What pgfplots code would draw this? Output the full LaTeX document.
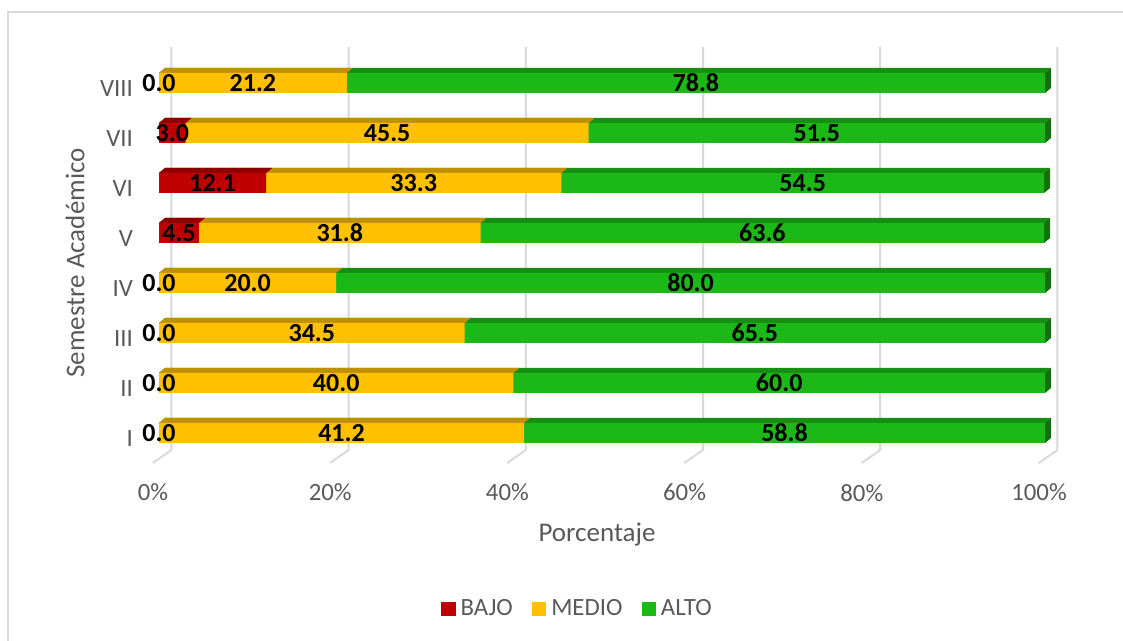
\documentclass[border=0pt]{standalone}
\usepackage{pgfplots}
\pgfplotsset{compat=1.18}
\usepackage{fontspec}
\setmainfont{Carlito}

% colours of the three levels: front, top and side faces
\definecolor{bajo}{HTML}{C00000}
\definecolor{bajotop}{HTML}{8C0000}
\definecolor{medio}{HTML}{FFC000}
\definecolor{mediotop}{HTML}{BF9000}
\definecolor{alto}{HTML}{1CB817}
\definecolor{altotop}{HTML}{168E12}
\definecolor{altoside}{HTML}{10700D}
\definecolor{gridgrey}{HTML}{D9D9D9}
\definecolor{textgrey}{HTML}{595959}

\begin{document}
\begin{tikzpicture}
\useasboundingbox (0,0) rectangle (561.5pt,320.5pt);
% chart frame
\draw[gridgrey, line width=0.8pt] (4pt,-10pt) -- (4pt,314.5pt) -- (580pt,314.5pt);

\begin{axis}[
  scale only axis,
  width=465pt, height=208pt,
  at={(70pt,89pt)}, anchor=south west,
  xmin=-2.1445, xmax=102.822,
  ymin=0.4, ymax=8.72,
  clip=false,
  axis line style={draw=none},
  major tick length=0pt,
  xtick={0,20,40,60,80,100},
  xticklabels={0\%,20\%,40\%,60\%,80\%,100\%},
  ytick={1,2,3,4,5,6,7,8},
  yticklabels={I,II,III,IV,V,VI,VII,VIII},
  tick label style={font=\fontsize{12.4}{14}\selectfont, text=textgrey},
  xticklabel style={xshift=-3pt, yshift=-7pt},
  yticklabel style={yshift=-3pt},
  unbounded coords=jump,
  legend image code/.code={\fill[#1] (0pt,-3.6pt) rectangle (7.2pt,3.6pt);},
  legend style={draw=none, fill=none, at={(0.472,-0.351)}, anchor=center,
    font=\fontsize{12.4}{14}\selectfont, text=textgrey, inner sep=0pt,
    nodes={inner sep=2.5pt},
    /tikz/every even column/.append style={column sep=7pt}},
  legend columns=3,
]
\addlegendimage{fill=bajo, draw=none}
\addlegendimage{fill=medio, draw=none}
\addlegendimage{fill=alto, draw=none}
\legend{BAJO,MEDIO,ALTO}

% gridlines on the back wall, bending onto the floor
\draw[gridgrey, line width=1pt] (axis cs:1.4,8.72) -- (axis cs:1.4,0.66) -- (axis cs:-0.7,0.4);
\draw[gridgrey, line width=1pt] (axis cs:21.4,8.72) -- (axis cs:21.4,0.66) -- (axis cs:19.3,0.4);
\draw[gridgrey, line width=1pt] (axis cs:41.4,8.72) -- (axis cs:41.4,0.66) -- (axis cs:39.3,0.4);
\draw[gridgrey, line width=1pt] (axis cs:61.4,8.72) -- (axis cs:61.4,0.66) -- (axis cs:59.3,0.4);
\draw[gridgrey, line width=1pt] (axis cs:81.4,8.72) -- (axis cs:81.4,0.66) -- (axis cs:79.3,0.4);
\draw[gridgrey, line width=1pt] (axis cs:101.4,8.72) -- (axis cs:101.4,0.66) -- (axis cs:99.3,0.4);

% ALTO: top faces (0 to total), side faces, front faces
\addplot[fill=altotop, draw=none, forget plot] coordinates {
(0,1.2) (100,1.2) (100.68,1.3) (0.68,1.3) (nan,nan)
(0,2.2) (100,2.2) (100.68,2.3) (0.68,2.3) (nan,nan)
(0,3.2) (100,3.2) (100.68,3.3) (0.68,3.3) (nan,nan)
(0,4.2) (100,4.2) (100.68,4.3) (0.68,4.3) (nan,nan)
(0,5.2) (99.9,5.2) (100.58,5.3) (0.68,5.3) (nan,nan)
(0,6.2) (99.9,6.2) (100.58,6.3) (0.68,6.3) (nan,nan)
(0,7.2) (100,7.2) (100.68,7.3) (0.68,7.3) (nan,nan)
(0,8.2) (100,8.2) (100.68,8.3) (0.68,8.3)
};
\addplot[fill=altoside, draw=none, forget plot] coordinates {
(100,0.8) (100,1.2) (100.68,1.3) (100.68,0.9) (nan,nan)
(100,1.8) (100,2.2) (100.68,2.3) (100.68,1.9) (nan,nan)
(100,2.8) (100,3.2) (100.68,3.3) (100.68,2.9) (nan,nan)
(100,3.8) (100,4.2) (100.68,4.3) (100.68,3.9) (nan,nan)
(99.9,4.8) (99.9,5.2) (100.58,5.3) (100.58,4.9) (nan,nan)
(99.9,5.8) (99.9,6.2) (100.58,6.3) (100.58,5.9) (nan,nan)
(100,6.8) (100,7.2) (100.68,7.3) (100.68,6.9) (nan,nan)
(100,7.8) (100,8.2) (100.68,8.3) (100.68,7.9)
};
\addplot[xbar, bar width=10pt, bar shift=0pt, fill=alto, draw=none, forget plot] coordinates {
(100,1) (100,2) (100,3) (100,4) (99.9,5) (99.9,6) (100,7) (100,8)
};

% MEDIO: bars run from 0 to BAJO+MEDIO
\addplot[fill=mediotop, draw=none, forget plot] coordinates {
(0,1.2) (41.2,1.2) (41.88,1.3) (0.68,1.3) (nan,nan)
(0,2.2) (40.0,2.2) (40.68,2.3) (0.68,2.3) (nan,nan)
(0,3.2) (34.5,3.2) (35.18,3.3) (0.68,3.3) (nan,nan)
(0,4.2) (20.0,4.2) (20.68,4.3) (0.68,4.3) (nan,nan)
(0,5.2) (36.3,5.2) (36.98,5.3) (0.68,5.3) (nan,nan)
(0,6.2) (45.4,6.2) (46.08,6.3) (0.68,6.3) (nan,nan)
(0,7.2) (48.5,7.2) (49.18,7.3) (0.68,7.3) (nan,nan)
(0,8.2) (21.2,8.2) (21.88,8.3) (0.68,8.3)
};
\addplot[xbar, bar width=10pt, bar shift=0pt, fill=medio, draw=none, forget plot] coordinates {
(41.2,1) (40.0,2) (34.5,3) (20.0,4) (36.3,5) (45.4,6) (48.5,7) (21.2,8)
};

% BAJO: only semesters V, VI and VII are non-zero
\addplot[fill=bajotop, draw=none, forget plot] coordinates {
(0,5.2) (4.5,5.2) (5.18,5.3) (0.68,5.3) (nan,nan)
(0,6.2) (12.1,6.2) (12.78,6.3) (0.68,6.3) (nan,nan)
(0,7.2) (3.0,7.2) (3.68,7.3) (0.68,7.3)
};
\addplot[xbar, bar width=10pt, bar shift=0pt, fill=bajo, draw=none, forget plot] coordinates {
(4.5,5) (12.1,6) (3.0,7)
};

% value labels, centred on each segment
\addplot[draw=none, mark=none, forget plot,
  nodes near coords, point meta=explicit symbolic,
  every node near coord/.style={anchor=center, text=black,
    font=\fontsize{13}{15}\selectfont\bfseries}]
  table[meta=lbl] {
x y lbl
0 1 0.0
20.6 1 41.2
70.6 1 58.8
0 2 0.0
20.0 2 40.0
70.0 2 60.0
0 3 0.0
17.25 3 34.5
67.25 3 65.5
0 4 0.0
10.0 4 20.0
60.0 4 80.0
2.25 5 4.5
20.4 5 31.8
68.1 5 63.6
6.05 6 12.1
28.75 6 33.3
72.65 6 54.5
1.5 7 3.0
25.75 7 45.5
74.25 7 51.5
0 8 0.0
10.6 8 21.2
60.6 8 78.8
};
\end{axis}

% axis titles
\node[anchor=base, text=textgrey, font=\fontsize{13.5}{16}\selectfont] at (298.5pt,49.5pt) {Porcentaje};
\node[rotate=90, anchor=center, text=textgrey, font=\fontsize{13.5}{16}\selectfont] at (37.5pt,189pt) {Semestre Académico};
\end{tikzpicture}
\end{document}
